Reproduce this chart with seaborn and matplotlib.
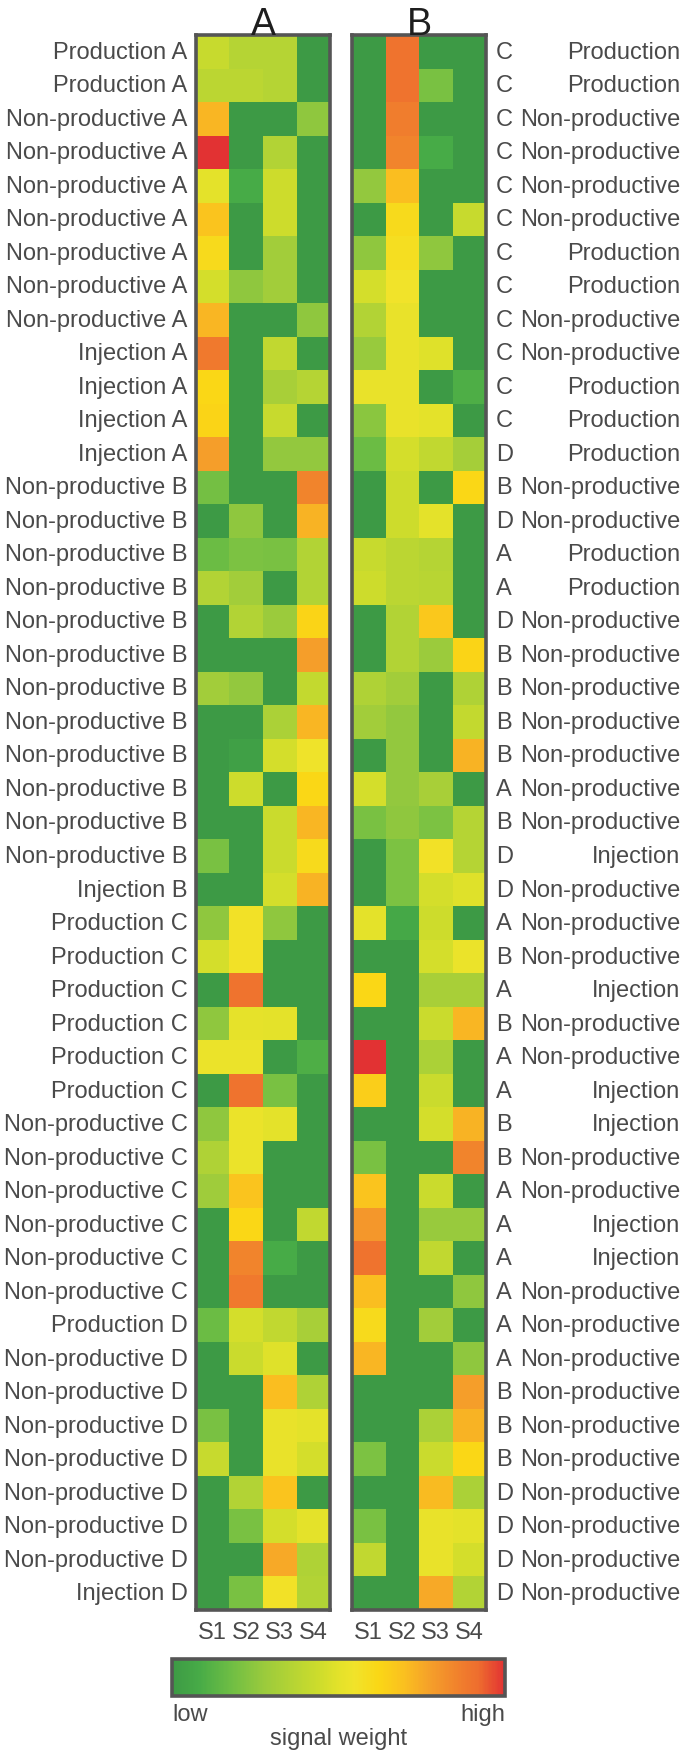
import numpy as np
import pandas as pd
import matplotlib
matplotlib.use("Agg")
import matplotlib.pyplot as plt
import seaborn as sns
from matplotlib.colors import LinearSegmentedColormap
from matplotlib.transforms import blended_transform_factory

sns.set_theme(style="white")
plt.rcParams['font.family'] = ['Liberation Sans', 'DejaVu Sans']

TXT = "#4a4a4a"
EDGE = "#555555"

signals = ["S1", "S2", "S3", "S4"]

left_labels = [
    "Production A", "Production A",
    "Non-productive A", "Non-productive A", "Non-productive A", "Non-productive A",
    "Non-productive A", "Non-productive A", "Non-productive A",
    "Injection A", "Injection A", "Injection A", "Injection A",
    "Non-productive B", "Non-productive B", "Non-productive B", "Non-productive B",
    "Non-productive B", "Non-productive B", "Non-productive B", "Non-productive B",
    "Non-productive B", "Non-productive B", "Non-productive B", "Non-productive B",
    "Injection B",
    "Production C", "Production C", "Production C", "Production C", "Production C", "Production C",
    "Non-productive C", "Non-productive C", "Non-productive C", "Non-productive C",
    "Non-productive C", "Non-productive C",
    "Production D",
    "Non-productive D", "Non-productive D", "Non-productive D", "Non-productive D",
    "Non-productive D", "Non-productive D", "Non-productive D",
    "Injection D",
]

right_group = [
    "C", "C", "C", "C", "C", "C", "C", "C", "C", "C", "C", "C",
    "D", "B", "D", "A", "A", "D", "B", "B", "B", "B", "A", "B",
    "D", "D", "A", "B", "A", "B", "A", "A", "B", "B", "A", "A",
    "A", "A", "A", "A", "B", "B", "B", "D", "D", "D", "D",
]

right_type = [
    "Production", "Production", "Non-productive", "Non-productive", "Non-productive",
    "Non-productive", "Production", "Production", "Non-productive", "Non-productive",
    "Production", "Production", "Production", "Non-productive", "Non-productive",
    "Production", "Production", "Non-productive", "Non-productive", "Non-productive",
    "Non-productive", "Non-productive", "Non-productive", "Non-productive", "Injection",
    "Non-productive", "Non-productive", "Non-productive", "Injection", "Non-productive",
    "Non-productive", "Injection", "Injection", "Non-productive", "Non-productive",
    "Injection", "Injection", "Non-productive", "Non-productive", "Non-productive",
    "Non-productive", "Non-productive", "Non-productive", "Non-productive", "Non-productive",
    "Non-productive", "Non-productive",
]

A_S1 = [0.42, 0.38, 0.72, 1.0, 0.5, 0.68, 0.6, 0.46, 0.72, 0.88, 0.62, 0.63, 0.78,
        0.19, 0, 0.17, 0.35, 0, 0, 0.3, 0, 0, 0, 0, 0.2, 0,
        0.25, 0.46, 0, 0.25, 0.53, 0, 0.25, 0.34, 0.29, 0, 0, 0,
        0.17, 0, 0, 0.2, 0.42, 0, 0, 0, 0]
A_S2 = [0.36, 0.38, 0, 0, 0.08, 0, 0, 0.25, 0, 0, 0, 0, 0,
        0, 0.25, 0.21, 0.3, 0.35, 0, 0.26, 0, 0.03, 0.44, 0, 0, 0,
        0.56, 0.56, 0.9, 0.51, 0.53, 0.9, 0.53, 0.53, 0.68, 0.62, 0.85, 0.88,
        0.46, 0.43, 0, 0, 0, 0.35, 0.2, 0, 0.2]
A_S3 = [0.36, 0.36, 0, 0.35, 0.44, 0.44, 0.3, 0.3, 0, 0.4, 0.32, 0.42, 0.26,
        0, 0, 0.2, 0, 0.28, 0, 0, 0.33, 0.46, 0, 0.43, 0.43, 0.46,
        0.25, 0, 0, 0.5, 0, 0.2, 0.5, 0, 0, 0, 0.08, 0,
        0.4, 0.49, 0.7, 0.52, 0.52, 0.68, 0.46, 0.75, 0.56]
A_S4 = [0, 0, 0.25, 0, 0, 0, 0, 0, 0.25, 0, 0.36, 0, 0.26,
        0.85, 0.73, 0.35, 0.35, 0.63, 0.78, 0.41, 0.72, 0.54, 0.62, 0.72, 0.6, 0.73,
        0, 0, 0, 0, 0.1, 0, 0, 0, 0, 0.4, 0, 0,
        0.32, 0, 0.34, 0.5, 0.46, 0, 0.5, 0.34, 0.35]

B_S1 = [0, 0, 0, 0, 0.26, 0, 0.25, 0.46, 0.35, 0.27, 0.52, 0.24, 0.17,
        0, 0, 0.42, 0.44, 0, 0, 0.34, 0.3, 0, 0.46, 0.2, 0, 0,
        0.5, 0, 0.62, 0, 1.0, 0.65, 0, 0.2, 0.68, 0.8, 0.9, 0.7,
        0.6, 0.72, 0, 0, 0.21, 0, 0.2, 0.4, 0]
B_S2 = [0.9, 0.9, 0.87, 0.85, 0.7, 0.6, 0.58, 0.55, 0.52, 0.52, 0.52, 0.52, 0.46,
        0.44, 0.44, 0.38, 0.38, 0.35, 0.35, 0.3, 0.26, 0.26, 0.26, 0.25, 0.21, 0.21,
        0.07, 0, 0, 0, 0, 0, 0, 0, 0, 0, 0, 0,
        0, 0, 0, 0, 0, 0, 0, 0, 0]
B_S3 = [0, 0.2, 0, 0.08, 0, 0, 0.25, 0, 0, 0.49, 0, 0.5, 0.4,
        0, 0.5, 0.36, 0.37, 0.67, 0.28, 0, 0, 0, 0.32, 0.21, 0.56, 0.46,
        0.44, 0.46, 0.32, 0.43, 0.33, 0.43, 0.46, 0, 0.43, 0.27, 0.4, 0,
        0.3, 0, 0, 0.33, 0.43, 0.71, 0.52, 0.52, 0.75]
B_S4 = [0, 0, 0, 0, 0, 0.42, 0, 0, 0, 0, 0.1, 0, 0.31,
        0.62, 0, 0, 0, 0, 0.63, 0.34, 0.41, 0.73, 0, 0.36, 0.36, 0.49,
        0, 0.53, 0.32, 0.72, 0, 0, 0.73, 0.85, 0, 0.27, 0, 0.25,
        0, 0.25, 0.78, 0.73, 0.62, 0.33, 0.5, 0.46, 0.35]

dfA = pd.DataFrame({"S1": A_S1, "S2": A_S2, "S3": A_S3, "S4": A_S4})
dfB = pd.DataFrame({"S1": B_S1, "S2": B_S2, "S3": B_S3, "S4": B_S4})

cmap = LinearSegmentedColormap.from_list("signal", [
    (0.00, "#3d9a45"),
    (0.08, "#47ab47"),
    (0.18, "#70be44"),
    (0.28, "#9ccb3c"),
    (0.36, "#b5d434"),
    (0.44, "#cddc2c"),
    (0.50, "#e3e22a"),
    (0.55, "#f1e32a"),
    (0.62, "#fad716"),
    (0.70, "#fabf20"),
    (0.78, "#f59e2a"),
    (0.88, "#f07a2d"),
    (0.92, "#ee6e2e"),
    (1.00, "#e23233"),
])

W, H = 685, 1756
fig = plt.figure(figsize=(W / 100, H / 100), dpi=100)
fig.patch.set_facecolor("white")

top_px, bot_px = 36, 1611
axA = fig.add_axes([196 / W, 1 - bot_px / H, 134 / W, (bot_px - top_px) / H])
axB = fig.add_axes([352 / W, 1 - bot_px / H, 134 / W, (bot_px - top_px) / H])
cax = fig.add_axes([172 / W, 1 - 1697 / H, 333 / W, 37 / H])

sns.heatmap(dfA, ax=axA, cmap=cmap, vmin=0, vmax=1, cbar=False,
            xticklabels=signals, yticklabels=left_labels)
sns.heatmap(dfB, ax=axB, cmap=cmap, vmin=0, vmax=1, cbar=False,
            xticklabels=signals, yticklabels=False)

FS = 17
for ax, title in ((axA, "A"), (axB, "B")):
    for s in ax.spines.values():
        s.set_visible(True)
        s.set_color(EDGE)
        s.set_linewidth(2.6)
    ax.set_title(title, fontsize=27, color="#1e1e1e", pad=1)
    ax.tick_params(axis="both", length=0)
    ax.set_xticklabels(signals, rotation=0, fontsize=FS, color=TXT)
    ax.tick_params(axis="x", pad=8)

axA.set_yticklabels(left_labels, rotation=0, fontsize=FS, color=TXT)
axA.tick_params(axis="y", pad=6)
axB.set_ylabel("")
axA.set_ylabel("")

trans = blended_transform_factory(axB.transAxes, axB.transData)
for i, (g, t) in enumerate(zip(right_group, right_type)):
    axB.text(1.075, i + 0.5, g, transform=trans, ha="left", va="center",
             fontsize=FS, color=TXT)
    axB.text(2.45, i + 0.5, t, transform=trans, ha="right", va="center",
             fontsize=FS, color=TXT)

cb = fig.colorbar(axA.collections[0], cax=cax, orientation="horizontal")
cb.set_ticks([])
cb.outline.set_edgecolor(EDGE)
cb.outline.set_linewidth(2.6)
cax.text(0.0, -0.18, "low", transform=cax.transAxes, ha="left", va="top",
         fontsize=FS, color=TXT)
cax.text(1.0, -0.18, "high", transform=cax.transAxes, ha="right", va="top",
         fontsize=FS, color=TXT)
cax.text(0.5, -0.85, "signal weight", transform=cax.transAxes, ha="center", va="top",
         fontsize=FS, color=TXT)

fig.savefig("out.png", dpi=100, facecolor="white")
